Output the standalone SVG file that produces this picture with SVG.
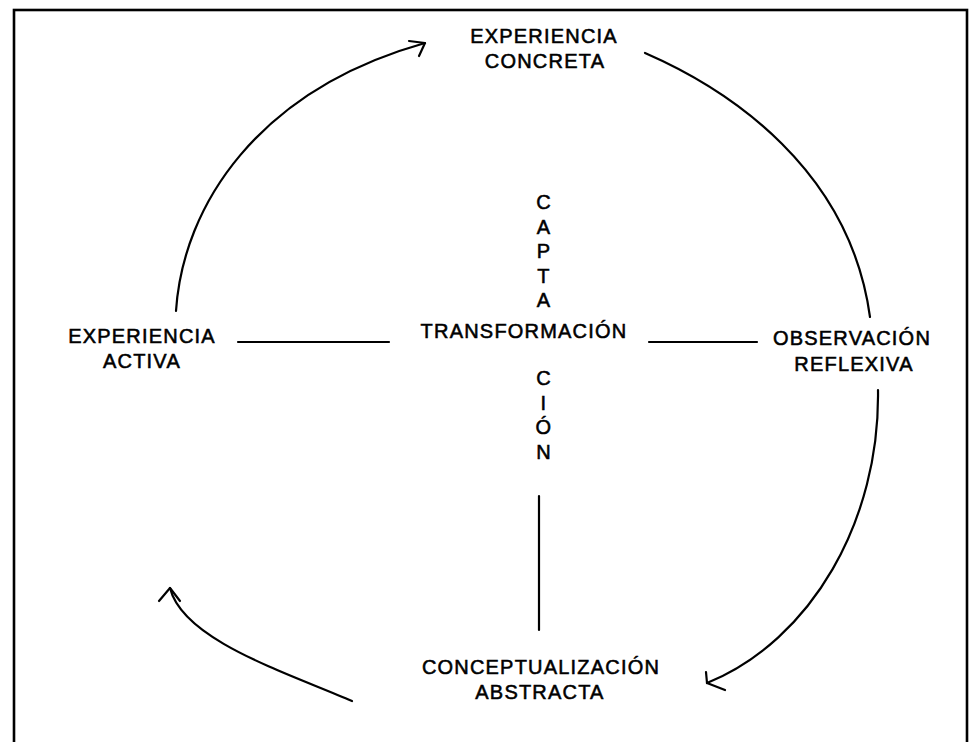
<svg xmlns="http://www.w3.org/2000/svg" width="970" height="742" viewBox="0 0 970 742">
  <style>
    .lbl { font-family: "Liberation Sans", Arial, sans-serif; font-size: 20px; letter-spacing: 1.2px; fill: #000; stroke: #000; stroke-width: 0.55; text-anchor: middle; }
    .wire { fill: none; stroke: #000; stroke-width: 2.2; stroke-linecap: round; stroke-linejoin: round; }
    .frame { fill: none; stroke: #000; stroke-width: 2.6; }
  </style>

  <rect width="970" height="742" fill="#fff"/>
  <rect class="frame" x="14" y="10" width="953" height="740"/>

  <g id="experiencia-concreta">
    <text class="lbl" x="544" y="43">EXPERIENCIA</text>
    <text class="lbl" x="545" y="68">CONCRETA</text>
  </g>

  <g id="experiencia-activa">
    <text class="lbl" x="142" y="343">EXPERIENCIA</text>
    <text class="lbl" x="142" y="368">ACTIVA</text>
  </g>

  <g id="observacion-reflexiva">
    <text class="lbl" x="852" y="345">OBSERVACIÓN</text>
    <text class="lbl" x="854" y="371">REFLEXIVA</text>
  </g>

  <g id="conceptualizacion-abstracta">
    <text class="lbl" x="541" y="674">CONCEPTUALIZACIÓN</text>
    <text class="lbl" x="540" y="699">ABSTRACTA</text>
  </g>

  <g id="transformacion">
    <text class="lbl" x="524" y="338">TRANSFORMACIÓN</text>
    <text class="lbl" x="544" y="209">C</text>
    <text class="lbl" x="544" y="233.5">A</text>
    <text class="lbl" x="544" y="258">P</text>
    <text class="lbl" x="544" y="282.5">T</text>
    <text class="lbl" x="544" y="307">A</text>
    <text class="lbl" x="544" y="385">C</text>
    <text class="lbl" x="544" y="409.5">I</text>
    <text class="lbl" x="544" y="434">Ó</text>
    <text class="lbl" x="544" y="458.5">N</text>
  </g>

  <g id="connectors">
    <!-- spokes to the centre -->
    <line class="wire" x1="238" y1="342" x2="389" y2="342"/>
    <line class="wire" x1="649" y1="342" x2="757" y2="342"/>
    <line class="wire" x1="539" y1="496" x2="539" y2="630"/>

    <!-- cycle arcs -->
    <path class="wire" d="M176,311 C183,205 258,90 425,43"/>
    <path class="wire" d="M409,41 L425,43 L419,56"/>

    <path class="wire" d="M645,53 C730,90 850,170 870,317"/>

    <path class="wire" d="M878,390 C880,520 812,640 707,683"/>
    <path class="wire" d="M706,672 L707,683 L725,690"/>

    <path class="wire" d="M352,701 C285,672 183,640 170,588"/>
    <path class="wire" d="M159,601 L170,588 L180,601"/>
  </g>
</svg>
